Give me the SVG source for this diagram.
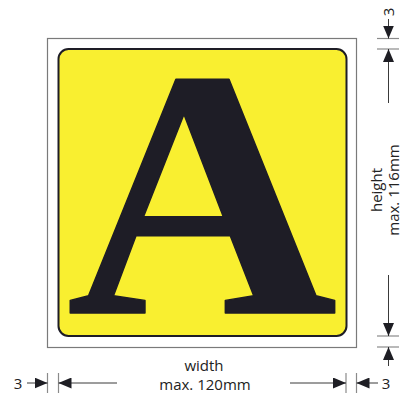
<svg xmlns="http://www.w3.org/2000/svg" width="404" height="394" viewBox="0 0 404 394">
<style>
.dim{stroke:#3a3a3a;stroke-width:1;fill:none;marker-end:url(#ah)}
.tick{stroke:#8a8a8a;stroke-width:1.2}
.lbl{font-family:"Open Sans","Noto Sans",sans-serif;font-size:15px;fill:#222}
</style>
<defs>
<marker id="ah" markerUnits="userSpaceOnUse" markerWidth="13" markerHeight="11" refX="13" refY="5.5" orient="auto" viewBox="0 0 13 11">
<path d="M0,0 L13,5.5 L0,11 z" fill="#1e1e24"/>
</marker>
</defs>
<rect width="404" height="394" fill="#fff"/>
<g id="sign">
<rect x="47.5" y="38.5" width="309" height="309" fill="#fff" stroke="#7a7a7a" stroke-width="1.2"/>
<rect x="58.5" y="49" width="288" height="287" rx="10" fill="#f9ef30" stroke="#1e1d26" stroke-width="2"/>
<text x="0" y="0" transform="translate(202,313) scale(1.25,1.18)" text-anchor="middle" font-family="'Liberation Serif',serif" font-weight="bold" font-size="300" fill="#1e1d26" stroke="#1e1d26" stroke-width="1.2" stroke-linejoin="round">A</text>
</g>
<g id="connectors">
<line class="tick" x1="377" y1="38.5" x2="399" y2="38.5"/>
<line class="tick" x1="377" y1="49" x2="399" y2="49"/>
<line class="tick" x1="377" y1="336" x2="399" y2="336"/>
<line class="tick" x1="377" y1="347" x2="399" y2="347"/>
<line class="dim" x1="388.5" y1="19" x2="388.5" y2="38.5"/>
<line class="dim" x1="388.5" y1="103" x2="388.5" y2="49"/>
<line class="dim" x1="388.5" y1="275" x2="388.5" y2="336"/>
<line class="dim" x1="388.5" y1="366" x2="388.5" y2="347"/>
<line class="tick" x1="47.5" y1="373" x2="47.5" y2="393"/>
<line class="tick" x1="58.5" y1="373" x2="58.5" y2="393"/>
<line class="tick" x1="346" y1="373" x2="346" y2="393"/>
<line class="tick" x1="356.5" y1="373" x2="356.5" y2="393"/>
<line class="dim" x1="27" y1="383" x2="47.5" y2="383"/>
<line class="dim" x1="117" y1="383" x2="58.5" y2="383"/>
<line class="dim" x1="290" y1="383" x2="346" y2="383"/>
<line class="dim" x1="378" y1="383" x2="356.5" y2="383"/>
</g>
<g id="labels">
<text class="lbl" transform="translate(394,12) rotate(-90)" text-anchor="middle">3</text>
<text class="lbl" transform="translate(382,190) rotate(-90)" text-anchor="middle">height</text>
<text class="lbl" transform="translate(398.5,190) rotate(-90)" text-anchor="middle">max. 116mm</text>
<text class="lbl" x="18" y="389" text-anchor="middle">3</text>
<text class="lbl" x="386" y="389" text-anchor="middle">3</text>
<text class="lbl" x="204" y="371" text-anchor="middle">width</text>
<text class="lbl" x="205" y="389.5" text-anchor="middle">max. 120mm</text>
</g>
</svg>
